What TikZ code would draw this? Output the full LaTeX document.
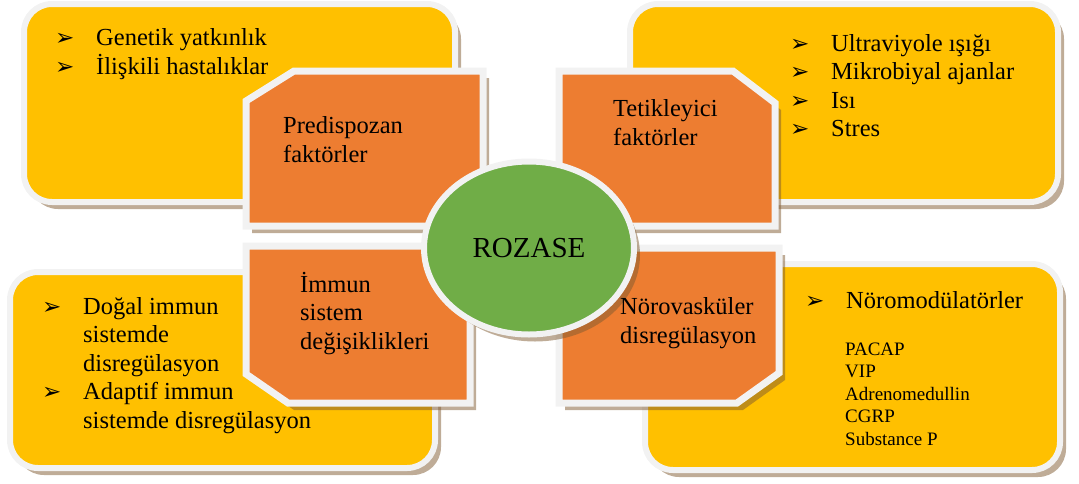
\documentclass[tikz,border=0pt]{standalone}
\usepackage{fontspec}
\setmainfont{Liberation Serif}
\newfontfamily\arrowfont{DejaVu Sans}
\usetikzlibrary{shapes.geometric,shadows}
\definecolor{gold}{HTML}{FFC000}
\definecolor{tangerine}{HTML}{ED7D31}
\definecolor{leaf}{HTML}{70AD47}
\definecolor{rim}{HTML}{F2F2F2}
\definecolor{shadowtan}{RGB}{127,90,48}
\newcommand{\pointer}{\makebox[41pt][l]{\arrowfont\fontsize{23}{23}\selectfont ➢}}
\newcommand{\indentgap}{\hspace*{41pt}}
\tikzset{
  softshadow/.style={drop shadow={shadow xshift=6pt,shadow yshift=-7pt,fill=shadowtan,opacity=0.5}},
  yellowbox/.style={rectangle,rounded corners=28pt,fill=gold,draw=rim,line width=6pt,softshadow,inner sep=0pt},
  orangebox/.style={fill=tangerine,draw=rim,line width=7pt,softshadow},
  bigtext/.style={font=\fontsize{24.5}{28.5}\selectfont,align=left,anchor=west,inner sep=0pt},
  smalltext/.style={font=\fontsize{19}{22.5}\selectfont,align=left,anchor=west,inner sep=0pt}
}
\begin{document}
\begin{tikzpicture}[x=1pt,y=-1pt]
\useasboundingbox (0,0) rectangle (1079,483);

\node [yellowbox,minimum width=431pt,minimum height=198pt] (predbox) at (239.5,103) {};
\node [yellowbox,minimum width=428pt,minimum height=198pt] (trigbox) at (844,103) {};
\node [yellowbox,minimum width=425pt,minimum height=196pt] (immbox) at (222.5,370) {};
\node [yellowbox,minimum width=415pt,minimum height=206pt] (neurobox) at (852.5,367) {};

\draw [orangebox] (246,101) -- (294,71) -- (483,71) -- (483,226) -- (246,226) -- cycle;
\draw [orangebox] (559,71) -- (733,71) -- (775,103) -- (775,226) -- (559,226) -- cycle;
\draw [orangebox] (246,246) -- (470,246) -- (470,403) -- (288,403) -- (246,374) -- cycle;
\draw [orangebox] (559,248) -- (779,248) -- (779,373) -- (737,403) -- (559,403) -- cycle;

\node [ellipse,minimum width=210pt,minimum height=173pt,inner sep=0pt,fill=leaf,draw=rim,line width=6pt,softshadow,font=\fontsize{29}{33}\selectfont] (rozase) at (529,248) {ROZASE};

\node [bigtext] (predlist) at (55,54) {\pointer Genetik yatkınlık\\\pointer İlişkili hastalıklar};
\node [bigtext] (triglist) at (790,85.5) {\pointer Ultraviyole ışığı\\\pointer Mikrobiyal ajanlar\\\pointer Isı\\\pointer Stres};
\node [bigtext] (immlist) at (42,365.5) {\pointer Doğal immun\\\indentgap sistemde\\\indentgap disregülasyon\\\pointer Adaptif immun\\\indentgap sistemde disregülasyon};
\node [bigtext] (neurohead) at (805,300) {\pointer Nöromodülatörler};
\node [smalltext] (neurolist) at (845,394) {PACAP\\VIP\\Adrenomedullin\\CGRP\\Substance P};

\node [bigtext] (predlabel) at (283,139.5) {Predispozan\\faktörler};
\node [bigtext] (triglabel) at (613,122.5) {Tetikleyici\\faktörler};
\node [bigtext] (immlabel) at (300,313.5) {İmmun\\sistem\\değişiklikleri};
\node [bigtext] (neurolabel) at (620,323) {Nörovasküler\\disregülasyon};
\end{tikzpicture}
\end{document}
